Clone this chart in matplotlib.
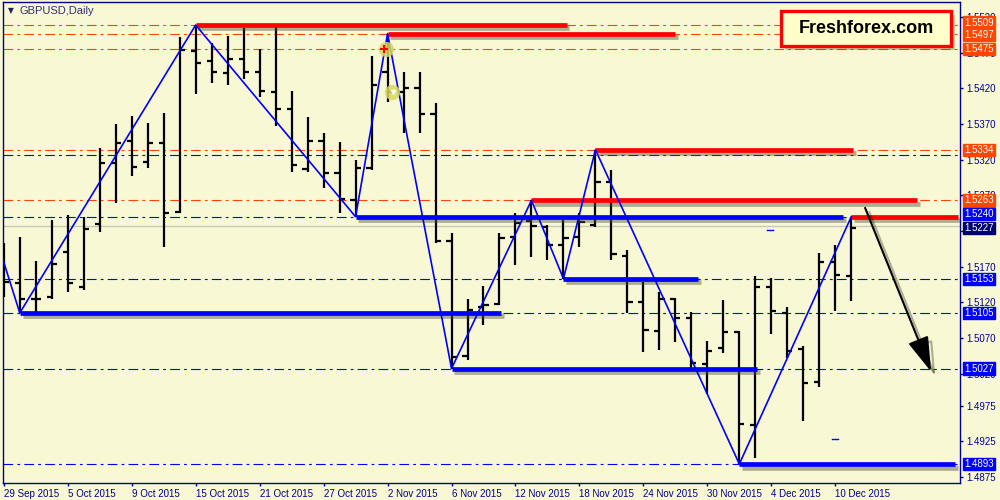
import matplotlib
matplotlib.use("Agg")
import matplotlib.pyplot as plt
import matplotlib.patheffects as pe
import matplotlib.transforms as mtransforms
from matplotlib.patches import Rectangle

plt.rcParams['font.family'] = ['Liberation Sans', 'DejaVu Sans']
plt.rcParams['lines.scale_dashes'] = False

# GBPUSD daily bars, 29 Sep 2015 .. 11 Dec 2015
opens = [1.5176, 1.5147, 1.5124, 1.5127, 1.5191, 1.5141, 1.5230, 1.5315, 1.5346, 1.5317,
         1.5343, 1.5247, 1.5473, 1.5458, 1.5442, 1.5461, 1.5443, 1.5415, 1.5391, 1.5307,
         1.5346, 1.5301, 1.5263, 1.5308, 1.5443, 1.5415, 1.5421, 1.5384, 1.5206, 1.5045,
         1.5113, 1.5118, 1.5212, 1.5234, 1.5226, 1.5200, 1.5212, 1.5228, 1.5289, 1.5185,
         1.5120, 1.5080, 1.5125, 1.5098, 1.5033, 1.5056, 1.5078, 1.4948, 1.5141, 1.5105,
         1.5054, 1.5008, 1.5176, 1.5157]
highs = [1.5203, 1.5212, 1.5178, 1.5235, 1.5242, 1.5240, 1.5336, 1.5370, 1.5381, 1.5371,
         1.5386, 1.5492, 1.5509, 1.5484, 1.5494, 1.5505, 1.5475, 1.5506, 1.5416, 1.5380,
         1.5357, 1.5345, 1.5320, 1.5465, 1.5497, 1.5443, 1.5443, 1.5400, 1.5217, 1.5125,
         1.5143, 1.5217, 1.5245, 1.5263, 1.5228, 1.5235, 1.5245, 1.5334, 1.5306, 1.5193,
         1.5148, 1.5134, 1.5126, 1.5106, 1.5066, 1.5123, 1.5080, 1.5157, 1.5154, 1.5113,
         1.5059, 1.5189, 1.5200, 1.5240]
lows = [1.5127, 1.5105, 1.5106, 1.5125, 1.5134, 1.5137, 1.5219, 1.5259, 1.5297, 1.5308,
        1.5198, 1.5245, 1.5412, 1.5428, 1.5425, 1.5433, 1.5408, 1.5367, 1.5303, 1.5303,
        1.5280, 1.5245, 1.5240, 1.5306, 1.5401, 1.5357, 1.5357, 1.5203, 1.5027, 1.5039,
        1.5088, 1.5116, 1.5172, 1.5183, 1.5179, 1.5153, 1.5198, 1.5226, 1.5179, 1.5105,
        1.5050, 1.5053, 1.5064, 1.5026, 1.4991, 1.5049, 1.4893, 1.4901, 1.5075, 1.5042,
        1.4953, 1.5001, 1.5108, 1.5122]
closes = [1.5148, 1.5124, 1.5125, 1.5174, 1.5147, 1.5223, 1.5315, 1.5343, 1.5310, 1.5343,
          1.5245, 1.5474, 1.5456, 1.5443, 1.5461, 1.5443, 1.5416, 1.5391, 1.5313, 1.5346,
          1.5301, 1.5265, 1.5308, 1.5425, 1.5415, 1.5421, 1.5384, 1.5206, 1.5043, 1.5109,
          1.5116, 1.5210, 1.5231, 1.5227, 1.5200, 1.5210, 1.5233, 1.5289, 1.5188, 1.5120,
          1.5081, 1.5125, 1.5098, 1.5035, 1.5052, 1.5078, 1.4949, 1.5141, 1.5108, 1.5052,
          1.5007, 1.5176, 1.5158, 1.5224]

date_labels = ['29 Sep 2015', '5 Oct 2015', '9 Oct 2015', '15 Oct 2015', '21 Oct 2015',
               '27 Oct 2015', '2 Nov 2015', '6 Nov 2015', '12 Nov 2015', '18 Nov 2015',
               '24 Nov 2015', '30 Nov 2015', '4 Dec 2015', '10 Dec 2015']

# zigzag pivots (bar index, price)
zz_bars = [-1, 1, 12, 22, 24, 28, 33, 35, 37, 46, 53]
zz_prices = [1.5247, 1.5105, 1.5509, 1.5240, 1.5497, 1.5027, 1.5263, 1.5153, 1.5334, 1.4893, 1.5240]

# thick support / resistance segments: price, from bar, to bar
red_levels = [(1.5509, 12, 35.2), (1.5497, 24, 42.0), (1.5334, 37, 53.1),
              (1.5263, 33, 57.1), (1.5240, 53, 59.7)]
blue_levels = [(1.5105, 1, 31.1), (1.5240, 22, 52.5), (1.5027, 28, 47.1),
               (1.5153, 35, 43.4), (1.4893, 46, 59.5)]

# dash-dot horizontal lines and price labels
orange_lines = [1.5509, 1.5497, 1.5475, 1.5334, 1.5263]
blue_lines = [1.5327, 1.5240, 1.5153, 1.5105, 1.5027, 1.4893]
blue_tags = [1.5240, 1.5153, 1.5105, 1.5027, 1.4893]
bid_price = 1.5227

y_ticks = [1.5520, 1.5470, 1.5420, 1.5370, 1.5320, 1.5270, 1.5220, 1.5170,
           1.5120, 1.5070, 1.5020, 1.4975, 1.4925, 1.4875]

# forecast arrow (bar, price)
arrow_from = (53.8, 1.5256)
arrow_to = (58.06, 1.5019)

# trade markers and stray marks
trade_marks = [(23.9, 1.5476), (24.3, 1.5415)]
small_dashes = [(47.9, 1.5221), (52.0, 1.4928)]

BG = '#F8F8D4'
NAVY = '#000090'
ORANGE = '#FF4500'
BLUE = '#0000FF'

fig = plt.figure(figsize=(10, 5), dpi=100, facecolor=BG)
ax = fig.add_axes([0.003, 0.034, 0.957, 0.962])
ax.set_facecolor(BG)
ax.set_xlim(-0.05, 59.8)
ax.set_ylim(1.48664, 1.55413)

dashdot = (0, (7, 3, 2, 3))
for p in orange_lines:
    ax.axhline(p, color=ORANGE, lw=0.8, ls=dashdot, zorder=1)
for p in blue_lines:
    ax.axhline(p, color=BLUE, lw=0.8, ls=dashdot, zorder=1)
ax.axhline(bid_price, color='#C8C8C0', lw=1.0, zorder=1)

# OHLC bars
tick_w = 0.32
for i in range(len(opens)):
    ax.plot([i, i], [lows[i], highs[i]], color='black', lw=1.6, zorder=3,
            solid_capstyle='butt')
    ax.plot([i - tick_w, i], [opens[i], opens[i]], color='black', lw=1.6, zorder=3,
            solid_capstyle='butt')
    ax.plot([i, i + tick_w], [closes[i], closes[i]], color='black', lw=1.6, zorder=3,
            solid_capstyle='butt')

shadow = [pe.SimpleLineShadow(offset=(2, -2.5), shadow_color='#505040', alpha=0.45),
          pe.Normal()]
for p, b0, b1 in red_levels:
    ax.plot([b0, b1], [p, p], color='#FF0000', lw=3.4, zorder=5,
            solid_capstyle='butt', path_effects=shadow)
for p, b0, b1 in blue_levels:
    ax.plot([b0, b1], [p, p], color=BLUE, lw=3.4, zorder=5,
            solid_capstyle='butt', path_effects=shadow)

ax.plot(zz_bars, zz_prices, color=BLUE, lw=1.2, zorder=6)

for b, p in small_dashes:
    ax.plot([b - 0.2, b + 0.2], [p, p], color=BLUE, lw=1.0, zorder=4)

for b, p in trade_marks:
    ax.plot(b, p, 'o', ms=11, color='#D8D860', alpha=0.85, mec='none', zorder=7)
ax.plot(trade_marks[0][0] - 0.15, trade_marks[0][1], '+', ms=6, mew=1.5,
        color='#FF0000', zorder=8)
ax.plot(trade_marks[1][0] + 0.05, trade_marks[1][1], 'v', ms=3, color='white', zorder=8)

ax.annotate('', xy=arrow_to, xytext=arrow_from, zorder=9,
            arrowprops=dict(arrowstyle='-|>,head_length=1.8,head_width=0.55',
                            color='black', lw=1.5, mutation_scale=12,
                            path_effects=[pe.SimpleLineShadow(offset=(3, -3), alpha=0.3),
                                          pe.Normal()]))

# axes styling
for s in ax.spines.values():
    s.set_color(NAVY)
    s.set_linewidth(1.0)
ax.yaxis.tick_right()
ax.set_yticks(y_ticks)
ax.set_yticklabels([f'{v:.4f}' for v in y_ticks])
ax.set_xticks(range(0, 4 * len(date_labels), 4))
ax.set_xticklabels(date_labels, ha='left')
ax.tick_params(axis='both', direction='out', length=2.5, width=1.0, color=NAVY,
               labelcolor=NAVY, labelsize=7, pad=2)

# price tags on the right scale (crowded pairs nudged apart, as the terminal does)
trans = mtransforms.blended_transform_factory(ax.transAxes, ax.transData)
tag_shift = {1.5509: 2.5, 1.5497: -1.5, 1.5240: 2.5, 1.5227: -2.0}


def price_tag(p, color, z):
    off = mtransforms.offset_copy(trans, fig=fig, y=tag_shift.get(p, 0.0), units='dots')
    ax.text(1.0045, p, f'{p:.4f}', transform=off, color='white', fontsize=7,
            va='center', ha='left', clip_on=False, zorder=z,
            bbox=dict(boxstyle='square,pad=0.12', fc=color, ec=color))


for p in orange_lines:
    price_tag(p, ORANGE, 10)
for p in blue_tags:
    price_tag(p, BLUE, 10)
price_tag(bid_price, '#000070', 11)

# title
fig.text(0.008, 0.978, '\u25BC', fontsize=5.5, color='#202060', family='DejaVu Sans',
         va='center', ha='left')
fig.text(0.019, 0.978, 'GBPUSD,Daily', fontsize=8, color='#303070', va='center',
         ha='left')

# logo box
logo = Rectangle((0.781, 1 - 0.092), 0.170, 0.070, transform=fig.transFigure,
                 fc='#FFFFCC', ec='#FF0000', lw=2.4, zorder=20,
                 path_effects=[pe.withSimplePatchShadow(offset=(3, -3), alpha=0.3)])
fig.add_artist(logo)
fig.text(0.866, 1 - 0.057, 'Freshforex.com', fontsize=13, fontweight='bold',
         color='black', ha='center', va='center', zorder=21)

fig.savefig('out.png', dpi=100, facecolor=BG)
